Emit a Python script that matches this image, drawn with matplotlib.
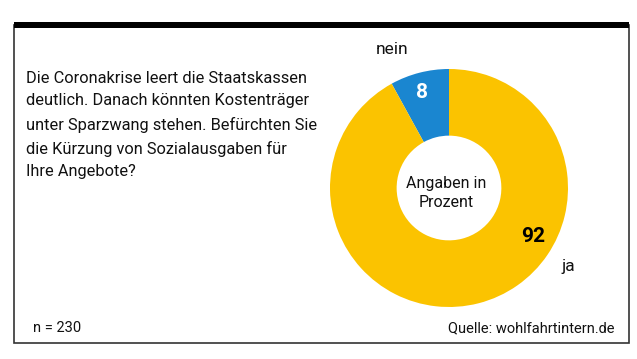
import matplotlib
matplotlib.use("Agg")
import matplotlib.pyplot as plt
from matplotlib.patches import Rectangle

plt.rcParams['font.family'] = ['Roboto', 'DejaVu Sans']

# data
labels = ['nein', 'ja']
values = [8, 92]
colors = ['#1a86d0', '#fbc300']
question = ("Die Coronakrise leert die Staatskassen\n"
            "deutlich. Danach könnten Kostenträger\n"
            "unter Sparzwang stehen. Befürchten Sie\n"
            "die Kürzung von Sozialausgaben für\n"
            "Ihre Angebote?")
center_text = "Angaben in\nProzent"
sample = "n = 230"
source = "Quelle: wohlfahrtintern.de"

W, H = 637, 359
fig = plt.figure(figsize=(W / 100, H / 100), dpi=100)
fig.patch.set_facecolor('white')

# frame: thin box with thick black top bar
bg = fig.add_axes([0, 0, 1, 1])
bg.set_xlim(0, W)
bg.set_ylim(H, 0)
bg.axis('off')
bg.add_patch(Rectangle((13.5, 25), 615, 318, fill=False, ec='#333333', lw=1.2))
bg.add_patch(Rectangle((13.5, 22), 615, 5.5, fc='black', ec='none'))

bg.text(26, 71, question, fontsize=11.8, va='top', ha='left',
        linespacing=1.62, color='#111111')
bg.text(33, 328, sample, fontsize=10.5, va='center', ha='left', color='#111111')
bg.text(614, 328, source, fontsize=10.5, va='center', ha='right', color='#111111')

# donut
cx, cy, r = 449, 188, 119
ax = fig.add_axes([(cx - r) / W, (H - cy - r) / H, 2 * r / W, 2 * r / H])
ax.pie(values, colors=colors, startangle=90, counterclock=True,
       wedgeprops=dict(width=0.56, edgecolor='none'))
ax.set_xlim(-1, 1)
ax.set_ylim(-1, 1)

ax.text(-0.48, 1.16, labels[0], fontsize=12.5, ha='center', va='center', color='#111111')
ax.text(-0.23, 0.80, str(values[0]), fontsize=15, fontweight='bold',
        ha='center', va='center', color='white')
ax.text(0.71, -0.41, str(values[1]), fontsize=15, fontweight='bold',
        ha='center', va='center', color='black')
ax.text(1.00, -0.66, labels[1], fontsize=12.5, ha='center', va='center', color='#111111')
ax.text(-0.02, -0.04, center_text, fontsize=11.5, ha='center', va='center',
        linespacing=1.35, color='#111111')

fig.savefig('out.png', dpi=100, facecolor='white')
